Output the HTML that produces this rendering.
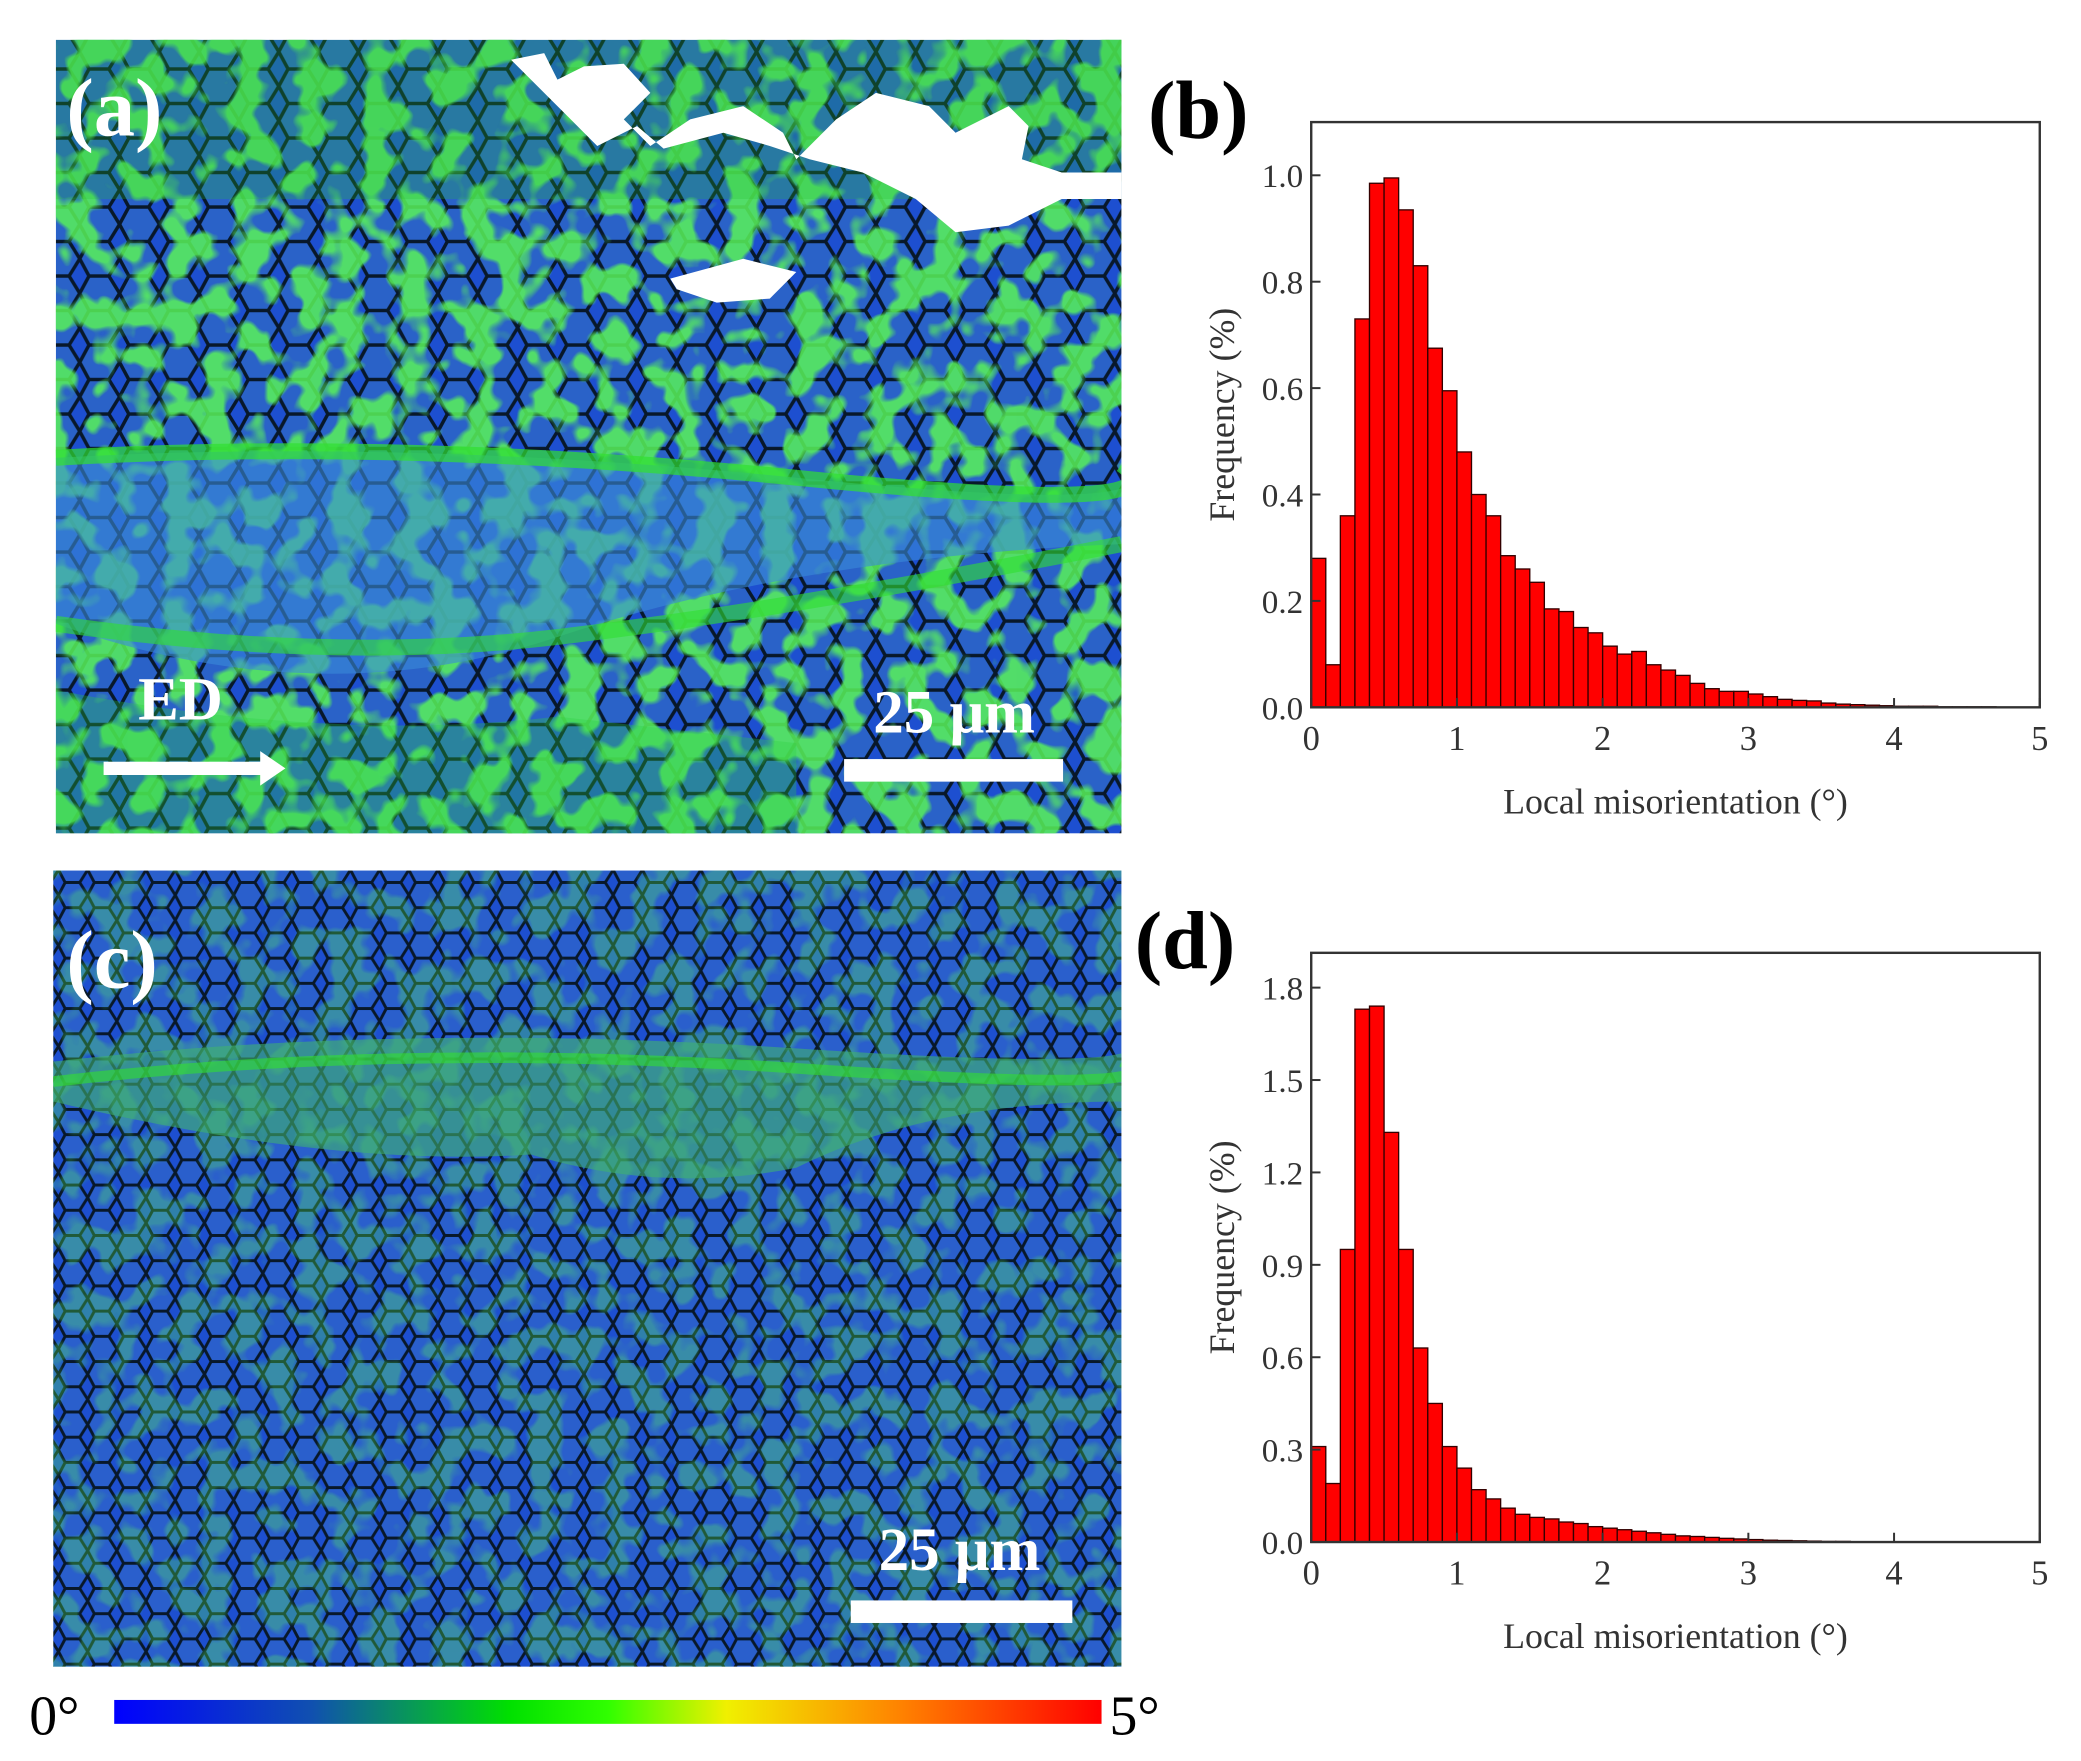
<!DOCTYPE html>
<html><head><meta charset="utf-8"><style>
html,body{margin:0;padding:0;background:#fff}
svg{display:block}
text{font-family:"Liberation Serif",serif}
</style></head><body>
<svg id="fig" width="2081" height="1761" viewBox="0 0 1568 1327" xmlns="http://www.w3.org/2000/svg">
<defs>
 <pattern id="hexA" width="30" height="26" patternUnits="userSpaceOnUse">
  <rect width="30" height="26" fill="#1d4fd0"/>
  <path d="M0 13 L7 0 L22 0 L30 13 L22 26 L7 26 Z" fill="#2a62c8" stroke="#08182a" stroke-width="2.6"/>
 </pattern>
 <pattern id="hexC" width="22" height="19" patternUnits="userSpaceOnUse">
  <rect width="22" height="19" fill="#1d4fd0"/>
  <path d="M0 9.5 L5 0 L16 0 L22 9.5 L16 19 L5 19 Z" fill="#2a5fcc" stroke="#08182a" stroke-width="2.2"/>
 </pattern>
 <filter id="greenNoise" x="0" y="0" width="100%" height="100%">
  <feTurbulence type="fractalNoise" baseFrequency="0.04" numOctaves="2" seed="4"/>
  <feColorMatrix type="matrix" values="0 0 0 0 0.1  0 0 0 0 0.9  0 0 0 0 0.1  0 0 0 9 -4.3"/>
 </filter>
 <linearGradient id="cbar" x1="0" x2="1" y1="0" y2="0">
  <stop offset="0" stop-color="#0000ff"/>
  <stop offset="0.2" stop-color="#1050b0"/>
  <stop offset="0.4" stop-color="#00e000"/>
  <stop offset="0.5" stop-color="#30ff00"/>
  <stop offset="0.62" stop-color="#f0f000"/>
  <stop offset="0.8" stop-color="#ff8000"/>
  <stop offset="1" stop-color="#ff0000"/>
 </linearGradient>
 <clipPath id="clipA"><rect x="42" y="30" width="803" height="598"/></clipPath>
 <clipPath id="clipC"><rect x="40" y="656" width="805" height="600"/></clipPath>
</defs>

<g clip-path="url(#clipA)">
 <rect x="42" y="30" width="803" height="598" fill="url(#hexA)"/>
 <rect x="42" y="30" width="803" height="598" filter="url(#greenNoise)" opacity="0.85"/>
 <rect x="42" y="30" width="803" height="120" fill="#22c030" opacity="0.25"/>
 <path d="M42 345 Q300 330 600 360 T845 350 L845 410 Q600 420 420 480 T42 470 Z" fill="#3a8ad8" opacity="0.6"/>
 <path d="M42 345 Q300 330 600 360 T845 350" stroke="#30e030" stroke-width="12" fill="none" opacity="0.7"/>
 <path d="M42 470 Q250 500 420 480 T845 410" stroke="#30e030" stroke-width="12" fill="none" opacity="0.6"/>
 <path d="M42 520 Q250 560 420 540 L600 560 L600 628 L42 628 Z" fill="#2ad040" opacity="0.3"/>
 <path d="M385 45 L410 40 L420 60 L440 50 L470 48 L490 70 L470 90 L490 110 L520 90 L560 80 L590 100 L600 120 L630 90 L660 70 L700 80 L720 100 L760 80 L775 95 L770 120 L800 130 L845 130 L845 150 L800 150 L760 170 L720 175 L690 150 L650 130 L610 120 L580 110 L545 100 L500 112 L480 95 L450 110 L430 90 Z" fill="#ffffff"/>
 <path d="M505 210 L560 195 L600 205 L580 225 L540 228 L510 218 Z" fill="#fff"/>
</g>
<text x="50" y="102" font-size="62" font-weight="bold" fill="#fff">(a)</text>
<text x="104" y="542" font-size="46" font-weight="bold" fill="#fff">ED</text>
<g><rect x="78" y="574" width="120" height="10" fill="#fff"/><path d="M196 566 L215 579 L196 592 Z" fill="#fff"/></g>
<text x="658" y="552" font-size="46" font-weight="bold" fill="#fff">25 μm</text>
<rect x="636" y="572" width="165" height="17" fill="#fff"/>

<g clip-path="url(#clipC)">
 <rect x="40" y="656" width="805" height="600" fill="url(#hexC)"/>
 <rect x="40" y="656" width="805" height="600" filter="url(#greenNoise)" opacity="0.3"/>
 <path d="M40 800 Q300 770 600 790 T845 780 L845 830 Q700 830 600 880 Q500 900 400 870 Q250 880 40 830 Z" fill="#40b070" opacity="0.6"/>
 <path d="M40 815 Q300 785 600 805 T845 800" stroke="#30e030" stroke-width="8" fill="none" opacity="0.6"/>
</g>
<text x="50" y="744" font-size="62" font-weight="bold" fill="#fff">(c)</text>
<text x="662" y="1183" font-size="46" font-weight="bold" fill="#fff">25 μm</text>
<rect x="641" y="1206" width="167" height="17" fill="#fff"/>

<rect x="86" y="1281" width="744" height="18" fill="url(#cbar)"/>
<text x="22" y="1307" font-size="42" fill="#000">0°</text>
<text x="836" y="1307" font-size="42" fill="#000">5°</text>

<text x="865" y="104" font-size="62" font-weight="bold" fill="#000">(b)</text>
<text x="855" y="730" font-size="62" font-weight="bold" fill="#000">(d)</text>
<g id="chartB"></g>
<g id="chartD"></g>
</svg>
<script>
const binWidth = 0.1;
const xTicks = [0, 1, 2, 3, 4, 5];
const freqB = [0.28,0.08,0.36,0.73,0.985,0.995,0.935,0.83,0.675,0.595,0.48,0.40,0.36,0.285,0.26,0.235,0.185,0.18,0.15,0.14,0.115,0.10,0.105,0.08,0.07,0.06,0.045,0.035,0.03,0.03,0.025,0.02,0.015,0.013,0.012,0.008,0.006,0.005,0.004,0.003,0.002,0.002,0.002,0.001,0.001,0.001,0.001,0,0,0];
const yTicksB = [0, 0.2, 0.4, 0.6, 0.8, 1.0];
const yTickLabelsB = ["0.0","0.2","0.4","0.6","0.8","1.0"];
const freqD = [0.31,0.19,0.95,1.73,1.74,1.33,0.95,0.63,0.45,0.31,0.24,0.17,0.14,0.11,0.09,0.08,0.075,0.065,0.06,0.05,0.045,0.04,0.035,0.03,0.025,0.02,0.018,0.015,0.012,0.01,0.008,0.006,0.005,0.004,0.003,0.002,0.002,0.001,0.001,0.001,0,0,0,0,0,0,0,0,0,0];
const yTicksD = [0, 0.3, 0.6, 0.9, 1.2, 1.5, 1.8];
const yTickLabelsD = ["0.0","0.3","0.6","0.9","1.2","1.5","1.8"];

const NS = "http://www.w3.org/2000/svg";
function mk(parent, tag, attrs, txt) {
  const e = document.createElementNS(NS, tag);
  for (const k in attrs) e.setAttribute(k, attrs[k]);
  if (txt !== undefined) e.textContent = txt;
  parent.appendChild(e);
  return e;
}
function drawHist(g, vals, yTicks, yLabels, box, yMax) {
  const xs = v => box.l + (v / 5) * (box.r - box.l);
  const ys = v => box.b - (v / yMax) * (box.b - box.t);
  vals.forEach((v, i) => {
    if (v <= 0) return;
    const r = mk(g, "rect", {x: xs(i * binWidth), y: ys(v), width: xs(binWidth) - xs(0), height: box.b - ys(v), fill: "#ff0000", stroke: "#300", "stroke-width": 1});
    
    
  });
  const frame = mk(g, "rect", {x: box.l, y: box.t, width: box.r - box.l, height: box.b - box.t, fill: "none", stroke: "#333", "stroke-width": 1.8});
  
  
  yTicks.forEach((t, i) => {
    mk(g, "line", {x1: box.l, x2: box.l + 7, y1: ys(t), y2: ys(t), stroke: "#333", "stroke-width": 1.5});
    const lb = mk(g, "text", {x: box.l - 6, y: ys(t) + 9, "font-size": 25, "text-anchor": "end", fill: "#333"}, yLabels[i]);
    
    
  });
  xTicks.forEach(t => {
    mk(g, "line", {x1: xs(t), x2: xs(t), y1: box.b, y2: box.b - 7, stroke: "#333", "stroke-width": 1.5});
    const lb = mk(g, "text", {x: xs(t), y: box.b + 32, "font-size": 26, "text-anchor": "middle", fill: "#333"}, String(t));
    
    
  });
  const xt = mk(g, "text", {x: (box.l + box.r) / 2, y: box.b + 80, "font-size": 27, "text-anchor": "middle", fill: "#333"}, "Local misorientation (°)");
  
  
  const cy = (box.t + box.b) / 2;
  const yt = mk(g, "text", {x: box.l - 58, y: cy, "font-size": 27, "text-anchor": "middle", fill: "#333", transform: `rotate(-90 ${box.l - 58} ${cy})`}, "Frequency (%)");
  
  
}
drawHist(document.getElementById("chartB"), freqB, yTicksB, yTickLabelsB, {l: 988, r: 1537, t: 92, b: 533}, 1.1);
drawHist(document.getElementById("chartD"), freqD, yTicksD, yTickLabelsD, {l: 988, r: 1537, t: 718, b: 1162}, 1.913);
</script>
</body></html>
